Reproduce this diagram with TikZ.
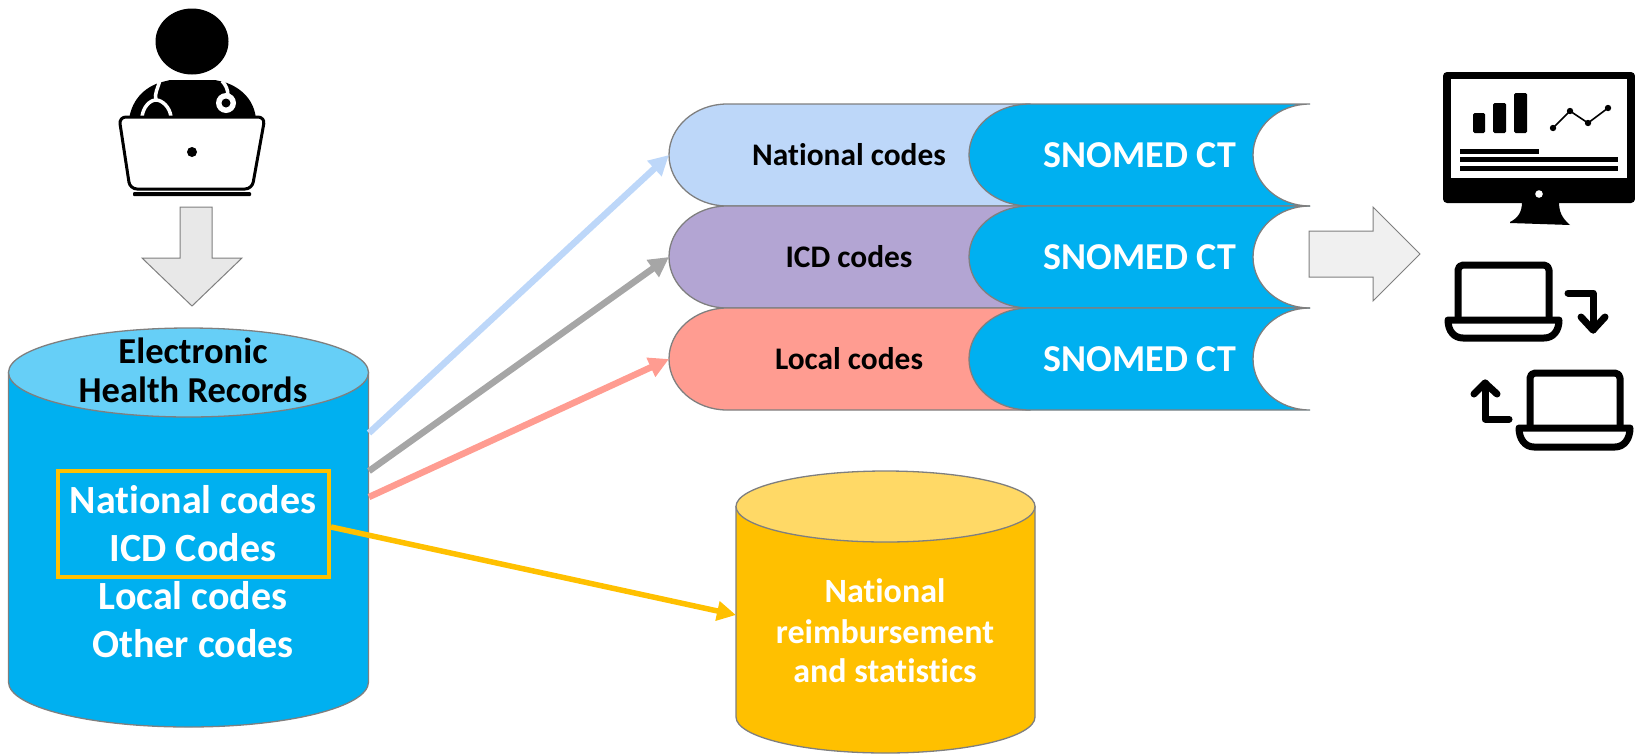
\documentclass[tikz,border=0pt]{standalone}
\usepackage{fontspec}
\setmainfont[Ligatures=NoCommon]{Carlito}
\usetikzlibrary{arrows.meta}
\definecolor{cyanmain}{HTML}{00B0F0}
\definecolor{cyanlight}{HTML}{66CFF7}
\definecolor{goldmain}{HTML}{FFC000}
\definecolor{goldlight}{HTML}{FFD966}
\definecolor{pillblue}{HTML}{BDD7F9}
\definecolor{pillpurple}{HTML}{B3A5D3}
\definecolor{pillred}{HTML}{FF9C91}
\definecolor{edgegrey}{HTML}{7F7F7F}
\definecolor{arrowgrey}{HTML}{A6A6A6}
\tikzset{
  shapeedge/.style={draw=edgegrey,line width=1.3pt},
  whitetext/.style={text=white,font=\fontsize{40}{40}\selectfont\bfseries,anchor=center,inner sep=0pt},
  darktext/.style={text=black,font=\fontsize{36.5}{36.5}\selectfont\bfseries,anchor=center,inner sep=0pt},
  pilltext/.style={text=black,font=\fontsize{31.4}{31.4}\selectfont\bfseries,anchor=center,inner sep=0pt},
  snotext/.style={text=white,font=\fontsize{38}{38}\selectfont\bfseries,anchor=center,inner sep=0pt},
  goldtext/.style={text=white,font=\fontsize{34}{34}\selectfont\bfseries,anchor=center,inner sep=0pt},
  feed/.style={line width=6.5pt,-{Triangle[length=20pt,width=20pt]}},
  iconline/.style={draw=black,line width=7pt,line cap=round,line join=round},
}
\newcommand{\pillrow}[4]{% name, top y, colour, text
  \begin{scope}[shift={(0,#2)}]
    \path[fill=#3,shapeedge] (1030,0) -- (727,0) .. controls (695,0) and (669,23) .. (669,51)
      .. controls (669,79) and (695,102) .. (727,102) -- (1030,102) -- cycle;
    \path[fill=cyanmain,shapeedge] (1310,0) .. controls (1278,0) and (1253,23) .. (1253,51)
      .. controls (1253,79) and (1278,102) .. (1310,102) -- (1030,102)
      .. controls (995,102) and (969,79) .. (969,51) .. controls (969,23) and (995,0) .. (1030,0) -- cycle;
    \coordinate (#1in) at (669,51);
    \node[pilltext] (#1txt) at (849,51) {#4};
    \node[snotext] (#1sno) at (1140,51) {SNOMED CT};
  \end{scope}
}
\begin{document}
\begin{tikzpicture}[x=1pt,y=-1pt]
\useasboundingbox (0,0) rectangle (1635,753);

% Doctor icon
\fill[black] (192,41.5) ellipse [x radius=36.5,y radius=33];
\fill[black] (129,120) .. controls (131,102) and (143,87) .. (162,82) -- (170,80) -- (215,80)
  -- (224,82) .. controls (243,88) and (255,102) .. (256,120) -- cycle;
\draw[white,line width=3.5pt] (160,80) .. controls (158,88) and (154,94) .. (156,100);
\draw[white,line width=3.5pt] (142,117) .. controls (143,107) and (150,100) .. (156,100)
  .. controls (162,100) and (170,107) .. (171,117);
\draw[white,line width=3.5pt] (222,81) .. controls (226,85) and (228,90) .. (228,96);
\fill[white] (226,103) circle (10);
\fill[black] (226,103) circle (4.5);
\draw[fill=white,draw=black,line width=3pt,rounded corners=7pt]
  (119,117) -- (265,117) -- (252,189) -- (130,189) -- cycle;
\fill[black] (192,152) circle (5);
\fill[black,rounded corners=1pt] (133,192) rectangle (251,196);

% Down arrow
\path[fill=black!9,shapeedge,line width=1pt] (180,207) -- (212,207) -- (212,258) -- (242,258)
  -- (192,306) -- (142,258) -- (180,258) -- cycle;

% EHR cylinder
\path[fill=cyanmain,shapeedge] (8.5,372.5) -- (8.5,682) .. controls (8.5,707) and (89,727) .. (188.5,727)
  .. controls (288,727) and (368.5,707) .. (368.5,682) -- (368.5,372.5) -- cycle;
\path[fill=cyanlight,shapeedge] (188.5,372.5) ellipse [x radius=180,y radius=44.5];
\coordinate (ehrA) at (369,433);
\coordinate (ehrB) at (369,471);
\coordinate (ehrC) at (369,497);
\node[darktext] (ehr1) at (193,351) {Electronic};
\node[darktext] (ehr2) at (193,390) {Health Records};
\node[whitetext] (code1) at (193,500) {National codes};
\node[whitetext] (code2) at (193,548) {ICD Codes};
\node[whitetext] (code3) at (193,596) {Local codes};
\node[whitetext] (code4) at (193,644) {Other codes};
\node[draw=goldmain,line width=4pt,minimum width=271pt,minimum height=106pt,inner sep=0pt] (natbox) at (193.5,524) {};

% Gold cylinder
\path[fill=goldmain,shapeedge] (736,506.5) -- (736,717) .. controls (736,737) and (803,753) .. (885.5,753)
  .. controls (968,753) and (1035,737) .. (1035,717) -- (1035,506.5) -- cycle;
\path[fill=goldlight,shapeedge] (885.5,506.5) ellipse [x radius=149.5,y radius=35.5];
\coordinate (goldin) at (736,615);
\node[goldtext] (g1) at (885,591) {National};
\node[goldtext] (g2) at (885,632) {reimbursement};
\node[goldtext] (g3) at (885,671) {and statistics};

% Pills
\pillrow{nat}{104}{pillblue}{National codes}
\pillrow{icd}{206}{pillpurple}{ICD codes}
\pillrow{loc}{308}{pillred}{Local codes}

% Connectors
\draw[feed,pillblue] (ehrA) -- (natin);
\draw[feed,arrowgrey] (ehrB) -- (icdin);
\draw[feed,pillred] (ehrC) -- (locin);
\draw[line width=5.5pt,goldmain,-{Triangle[length=19pt,width=19pt]}] (natbox.east |- 0,527) -- (goldin);

% Right block arrow
\path[fill=black!6,shapeedge,line width=1pt] (1309,231) -- (1373,231) -- (1373,207) -- (1420,254)
  -- (1373,301) -- (1373,277) -- (1309,277) -- cycle;

% Monitor icon
\fill[black,rounded corners=4pt] (1443,72) rectangle (1635,203);
\fill[white] (1451,79) rectangle (1627,178);
\fill[black,rounded corners=1.5pt] (1473,113) rectangle (1485,133);
\fill[black,rounded corners=1.5pt] (1493,103) rectangle (1506,133);
\fill[black,rounded corners=1.5pt] (1514,93) rectangle (1527,133);
\draw[black,line width=1.6pt] (1553,128) -- (1570,111) -- (1588,123) -- (1608,108);
\foreach \px/\py in {1553/128,1570/111,1588/123,1608/108} \fill[black] (\px,\py) circle (3.2);
\fill[black] (1460,148.5) rectangle (1539,153.5);
\fill[black] (1460,157) rectangle (1618,162);
\fill[black] (1460,166) rectangle (1618,171);
\fill[white] (1539,194) circle (3.8);
\fill[black] (1522,202) .. controls (1522,212) and (1518,218) .. (1510,222) -- (1510,223) --
  (1570,225) .. controls (1562,218) and (1559,212) .. (1559,202) -- cycle;

% Laptops
\draw[iconline,rounded corners=5pt] (1458,320) -- (1458,265) -- (1549,265) -- (1549,320);
\draw[iconline,fill=white] (1448,320) -- (1559,320) .. controls (1559,331) and (1553,338) .. (1544,338)
  -- (1463,338) .. controls (1454,338) and (1448,331) .. (1448,320) -- cycle;
\draw[iconline] (1568,293) -- (1593,293) -- (1593,330);
\draw[iconline] (1581,317) -- (1593,330) -- (1605,317);
\draw[iconline,rounded corners=5pt] (1530,428) -- (1530,373) -- (1620,373) -- (1620,428);
\draw[iconline,fill=white] (1519,428) -- (1630,428) .. controls (1630,439) and (1624,447) .. (1615,447)
  -- (1534,447) .. controls (1525,447) and (1519,439) .. (1519,428) -- cycle;
\draw[iconline] (1509,419) -- (1485,419) -- (1485,383);
\draw[iconline] (1474,394) -- (1485,383) -- (1497,394);
\end{tikzpicture}
\end{document}
